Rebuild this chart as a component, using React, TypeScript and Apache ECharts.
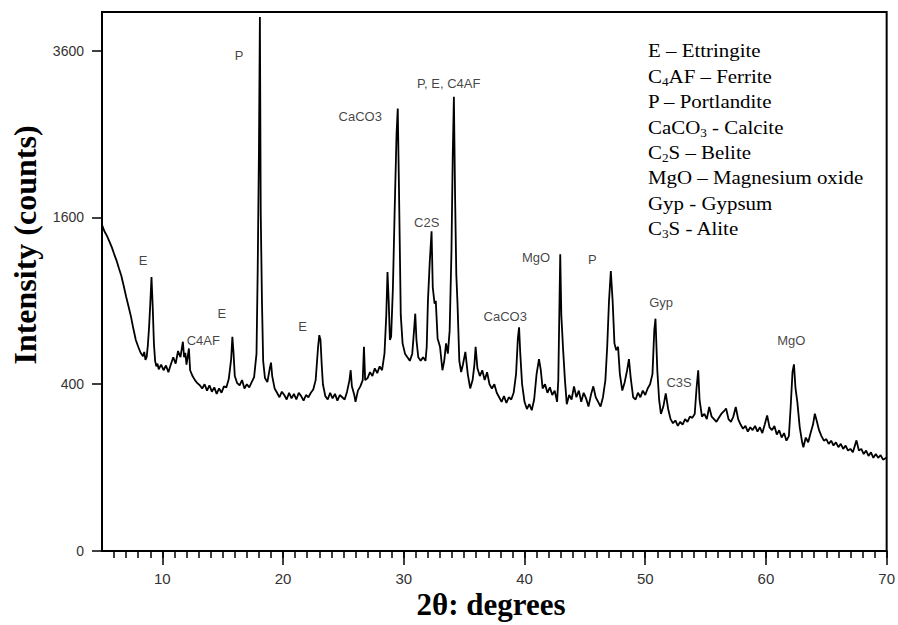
import React, { useEffect, useRef } from "react";
import * as echarts from "echarts";

// XRD pattern: [2θ (degrees), intensity (counts)]
const patternA: [number, number][] = [
  [5.0,1530],[5.2,1470],[5.4,1430],[5.6,1380],[5.8,1330],[6.0,1270],[6.2,1215],[6.4,1150],[6.6,1090],[6.8,1010],
  [7.0,930],[7.2,860],[7.4,790],[7.6,710],[7.8,640],[8.0,600],[8.2,565],[8.4,545],[8.5,570],[8.6,525],[8.7,540],
  [8.8,610],[8.9,720],[9.0,880],[9.1,1080],[9.2,860],[9.3,620],[9.4,520],[9.5,490],[9.6,505],[9.7,475],[9.9,500],
  [10.1,470],[10.3,495],[10.5,460],[10.7,500],[10.9,540],[11.1,505],[11.3,575],[11.5,540],[11.7,630],[11.8,540],
  [11.9,565],[12.0,500],[12.2,590],[12.3,470],[12.5,440],[12.7,420],[12.9,405],[13.1,395],[13.3,380],[13.5,400],
  [13.7,370],[13.9,395],[14.1,365],[14.3,385],[14.5,355],[14.7,380],[14.9,360],[15.1,390],[15.3,385],[15.5,425],
  [15.7,530],[15.8,660],[15.9,560],[16.0,440],[16.2,405],[16.4,395],[16.6,420],[16.8,380],[17.0,400],[17.2,385],
  [17.4,410],[17.6,435],[17.8,560],[17.9,1150],[18.0,2300],[18.08,4100],[18.15,1640],[18.25,900],[18.35,520],[18.5,430],
];
const patternB: [number, number][] = [
  [18.7,410],[18.9,480],[19.0,510],[19.1,440],[19.3,380],[19.5,360],[19.7,340],[19.9,365],[20.1,350],[20.3,330],
  [20.5,360],[20.7,335],[20.9,355],[21.1,330],[21.3,360],[21.5,345],[21.7,325],[21.9,350],[22.1,340],[22.3,360],
  [22.5,375],[22.7,420],[22.9,600],[23.0,670],[23.1,640],[23.2,500],[23.3,400],[23.5,345],[23.7,330],[23.9,360],
  [24.1,335],[24.3,355],[24.5,325],[24.7,350],[24.9,340],[25.1,330],[25.3,365],[25.5,420],[25.6,470],[25.7,390],
  [25.9,350],[26.0,320],[26.2,370],[26.4,390],[26.6,420],[26.7,600],[26.8,420],[27.0,430],[27.2,460],[27.4,440],
  [27.6,480],[27.8,455],[28.0,490],[28.2,470],[28.4,560],[28.55,800],[28.65,1120],[28.75,900],[28.85,640],[28.95,660],
  [29.1,1000],[29.25,1700],[29.4,2500],[29.5,2816],[29.6,1900],[29.75,800],[29.9,620],[30.1,560],[30.3,540],[30.5,520],
  [30.7,560],[30.85,700],[30.95,810],[31.05,640],[31.2,540],[31.4,520],[31.6,540],[31.8,520],[31.9,600],[32.0,900],
  [32.15,1200],[32.3,1470],[32.4,1000],[32.55,880],[32.65,900],[32.8,650],[33.0,600],[33.2,470],[33.35,520],[33.5,620],
  [33.65,560],[33.8,700],[33.95,1300],[34.05,2200],[34.15,2966],[34.25,1800],[34.35,1100],[34.45,880],[34.6,520],[34.75,460],
  [34.9,500],[35.1,570],[35.3,450],[35.5,380],[35.7,420],[35.85,500],[35.95,600],[36.1,480],[36.3,440],[36.5,470],
  [36.7,420],[36.9,460],[37.1,400],[37.3,380],[37.5,400],[37.7,360],
];
const patternC: [number, number][] = [
  [37.9,340],[38.1,320],[38.3,345],[38.5,315],[38.7,340],[38.9,330],[39.1,360],[39.3,450],[39.45,650],[39.55,720],
  [39.65,560],[39.8,400],[40.0,320],[40.2,290],[40.4,310],[40.6,285],[40.8,330],[41.0,450],[41.2,530],[41.35,470],
  [41.5,380],[41.7,400],[41.9,360],[42.1,385],[42.3,350],[42.5,370],[42.7,320],[42.8,420],[42.9,900],[42.96,1266],
  [43.05,800],[43.2,580],[43.35,420],[43.5,310],[43.7,350],[43.9,330],[44.1,390],[44.3,340],[44.5,370],[44.7,320],
  [44.9,360],[45.1,335],[45.3,300],[45.5,350],[45.7,390],[45.9,340],[46.1,320],[46.3,300],[46.5,340],[46.7,420],
  [46.85,600],[47.0,900],[47.15,1128],[47.3,900],[47.45,620],[47.6,580],[47.75,600],[47.9,450],[48.1,370],[48.3,410],
  [48.5,470],[48.65,530],[48.8,430],[49.0,340],[49.2,330],[49.4,360],[49.6,340],[49.8,370],[50.0,350],[50.2,380],
  [50.4,400],[50.6,450],[50.75,700],[50.85,776],[51.0,470],[51.15,330],[51.3,270],[51.5,300],[51.7,357],[51.9,290],
  [52.1,250],[52.3,235],[52.5,245],[52.7,225],[52.9,240],[53.1,230],[53.3,250],[53.5,240],[53.7,260],[53.9,255],
  [54.1,270],[54.25,380],[54.39,469],[54.5,330],
];
const patternD: [number, number][] = [
  [54.7,260],[54.9,270],[55.1,250],[55.3,298],[55.5,260],[55.7,250],[55.9,240],[56.1,255],[56.3,270],[56.5,280],
  [56.7,292],[56.9,250],[57.1,240],[57.3,260],[57.5,298],[57.7,250],[57.9,230],[58.1,215],[58.3,225],[58.5,205],
  [58.7,220],[58.9,210],[59.1,225],[59.3,205],[59.5,220],[59.7,200],[59.9,230],[60.1,264],[60.3,220],[60.5,210],
  [60.7,225],[60.9,195],[61.1,210],[61.3,185],[61.5,200],[61.7,175],[61.9,190],[62.05,300],[62.2,460],[62.32,501],
  [62.45,380],[62.6,320],[62.8,220],[63.0,170],[63.1,155],[63.3,185],[63.5,170],[63.7,200],[63.9,230],[64.05,271],
  [64.2,245],[64.4,210],[64.6,190],[64.8,175],[65.0,180],[65.2,165],[65.4,175],[65.6,160],[65.8,170],[66.0,155],
  [66.2,165],[66.4,150],[66.6,160],[66.8,145],[67.0,150],[67.2,140],[67.5,176],[67.7,145],[67.9,150],[68.1,135],
  [68.3,145],[68.5,130],[68.7,140],[68.9,125],[69.1,135],[69.3,125],[69.5,132],[69.7,120],[70.0,126],
];

// Peak annotations: [label, 2θ, counts where the label sits]
const peakLabels: [string, number, number][] = [
  ["E", 8.4, 1215], ["C4AF", 13.39, 638], ["E", 14.93, 812], ["P", 16.35, 3536], ["E", 21.62, 726],
  ["CaCO3", 26.39, 2719], ["P, E, C4AF", 33.72, 3147], ["C2S", 31.9, 1554], ["CaCO3", 38.4, 792],
  ["MgO", 40.95, 1241], ["P", 45.62, 1224], ["Gyp", 51.32, 889], ["C3S", 52.8, 409], ["MgO", 62.1, 638],
];

// Phase key (rich text, {s|..} = subscript)
const phaseKey: string[] = [
  "E – Ettringite",
  "C{s|4}AF – Ferrite",
  "P – Portlandite",
  "CaCO{s|3} - Calcite",
  "C{s|2}S – Belite",
  "MgO – Magnesium oxide",
  "Gyp - Gypsum",
  "C{s|3}S - Alite",
];

const yTicks = [0, 400, 1600, 3600];
const xMajorTicks = [10, 20, 30, 40, 50, 60, 70];
const xMinorTicks = Array.from({ length: 65 }, (_, i) => 6 + i);

const X_MIN = 5, X_MAX = 70, Y_MAX_COUNTS = 4178;

export default function App() {
  const ref = useRef<HTMLDivElement>(null);
  useEffect(() => {
    if (!ref.current) return;
    const chart = echarts.init(ref.current, null, { renderer: "svg" });
    const pattern = [...patternA, ...patternB, ...patternC, ...patternD];
    const sq = (c: number) => Math.sqrt(c);
    const keyBaseline = 57.3;
    const keyStep = 25.4;
    chart.setOption({
      animation: false,
      backgroundColor: "#ffffff",
      grid: {
        left: 102, right: 7, top: 12, bottom: 74,
        show: true, borderColor: "#000", borderWidth: 2, backgroundColor: "transparent",
      },
      xAxis: [
        {
          type: "value", min: X_MIN, max: X_MAX, position: "bottom",
          axisLine: { show: true, lineStyle: { color: "#000", width: 2 } },
          axisTick: { show: true, customValues: xMajorTicks, length: 14, lineStyle: { color: "#000", width: 1.5 } },
          axisLabel: {
            customValues: xMajorTicks, margin: 20, color: "#333",
            fontFamily: "Liberation Sans, Arial, sans-serif", fontSize: 15,
          },
          splitLine: { show: false },
        },
        {
          type: "value", min: X_MIN, max: X_MAX, position: "bottom", gridIndex: 0,
          axisLine: { show: false },
          axisTick: { show: true, customValues: xMinorTicks, length: 7, lineStyle: { color: "#000", width: 1.5 } },
          axisLabel: { show: false },
          splitLine: { show: false },
        },
      ],
      yAxis: {
        type: "value", min: 0, max: sq(Y_MAX_COUNTS),
        axisLine: { show: true, lineStyle: { color: "#000", width: 2 } },
        axisTick: { show: true, customValues: yTicks.map(sq), length: 10, lineStyle: { color: "#000", width: 1.5 } },
        axisLabel: {
          customValues: yTicks.map(sq), margin: 18, color: "#333",
          fontFamily: "Liberation Sans, Arial, sans-serif", fontSize: 14,
          formatter: (v: number) => String(Math.round(v * v)),
        },
        splitLine: { show: false },
      },
      series: [
        {
          type: "line", xAxisIndex: 0, yAxisIndex: 0,
          data: pattern.map(([x, c]) => [x, sq(c)]),
          showSymbol: false, symbol: "none", smooth: false,
          lineStyle: { color: "#000", width: 1.8 },
          z: 3,
        },
        {
          type: "scatter", xAxisIndex: 0, yAxisIndex: 0,
          symbolSize: 1, itemStyle: { color: "rgba(0,0,0,0)" },
          data: peakLabels.map(([name, x, c]) => ({ name, value: [x, sq(c)] })),
          label: {
            show: true, position: "inside", formatter: (p: any) => p.name,
            color: "#111", fontSize: 13, fontFamily: "Liberation Sans, Arial, sans-serif",
          },
          z: 4,
        },
      ],
      graphic: [
        {
          type: "text", x: 25, y: 245, rotation: Math.PI / 2,
          style: {
            text: "Intensity (counts)", fill: "#000",
            font: "bold 32px 'Liberation Serif', 'Times New Roman', serif",
            textAlign: "center", textVerticalAlign: "middle",
          },
        },
        {
          type: "text", x: 491, y: 604,
          style: {
            text: "2θ: degrees", fill: "#000",
            font: "bold 31px 'Liberation Serif', 'Times New Roman', serif",
            textAlign: "center", textVerticalAlign: "middle",
          },
        },
        ...phaseKey.map((t, i) => ({
          type: "text", x: 648, y: keyBaseline + i * keyStep - 6.6, scaleX: 1.1,
          style: {
            text: t, fill: "#000",
            fontFamily: "'Liberation Serif', 'Times New Roman', serif", fontSize: 19,
            lineHeight: 24, textAlign: "left", textVerticalAlign: "middle",
            rich: {
              s: {
                fontFamily: "'Liberation Serif', 'Times New Roman', serif",
                fontSize: 12, lineHeight: 11, verticalAlign: "bottom", fill: "#000",
              },
            },
          },
        })),
      ],
    });
    return () => chart.dispose();
  }, []);
  return (
    <div
      ref={ref}
      style={{ position: "fixed", left: 0, top: 0, width: 898, height: 625, background: "#fff" }}
    />
  );
}
